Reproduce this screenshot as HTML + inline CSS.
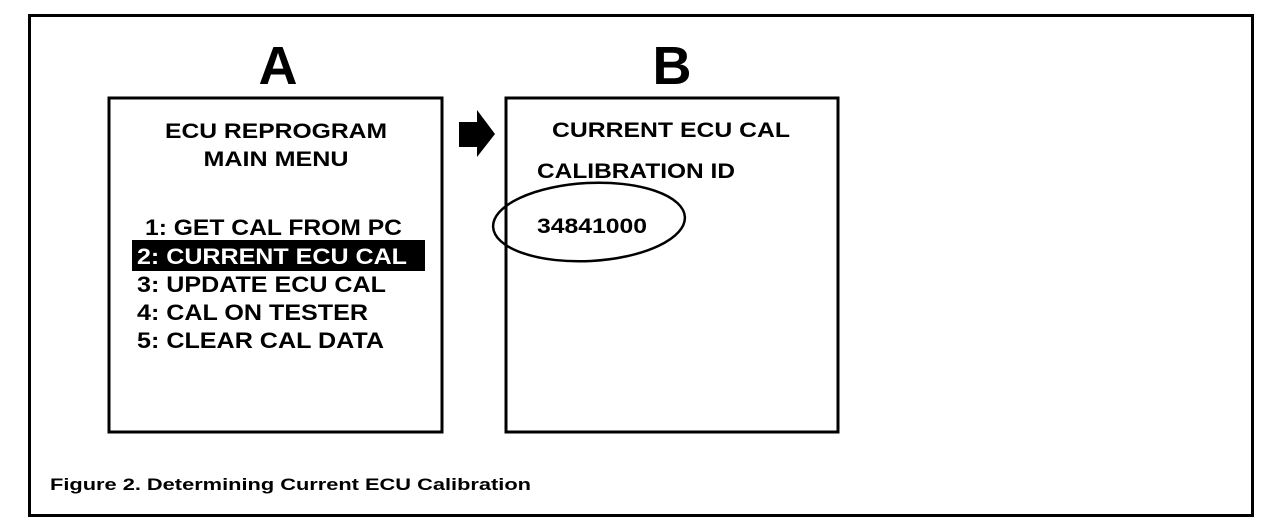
<!DOCTYPE html>
<html><head><meta charset="utf-8"><style>
html,body{margin:0;padding:0;background:#fff;}
svg{display:block;}
text{font-family:"Liberation Sans",sans-serif;font-weight:bold;fill:#000;}
</style></head><body>
<svg width="1280" height="530" viewBox="0 0 1280 530" xmlns="http://www.w3.org/2000/svg">
<rect x="29.5" y="15.5" width="1223" height="500" fill="none" stroke="#000" stroke-width="3"/>
<text x="278" y="84" font-size="54" text-anchor="middle">A</text>
<text x="672" y="84" font-size="54" text-anchor="middle">B</text>
<rect x="109" y="98" width="333" height="334" fill="none" stroke="#000" stroke-width="3"/>
<rect x="506" y="98" width="332" height="334" fill="none" stroke="#000" stroke-width="3"/>
<polygon points="459,122 477,122 477,110 495,134 477,157 477,147 459,147" fill="#000"/>
<text x="276" y="138" font-size="21" text-anchor="middle" textLength="222" lengthAdjust="spacingAndGlyphs">ECU REPROGRAM</text>
<text x="276" y="166" font-size="21" text-anchor="middle" textLength="145" lengthAdjust="spacingAndGlyphs">MAIN MENU</text>
<rect x="132" y="240" width="293" height="31" fill="#000"/>
<text x="145" y="235" font-size="22" textLength="257" lengthAdjust="spacingAndGlyphs">1: GET CAL FROM PC</text>
<text x="137" y="264" font-size="22" textLength="270" lengthAdjust="spacingAndGlyphs" style="fill:#fff">2: CURRENT ECU CAL</text>
<text x="137" y="292" font-size="22" textLength="249" lengthAdjust="spacingAndGlyphs">3: UPDATE ECU CAL</text>
<text x="137" y="320" font-size="22" textLength="231" lengthAdjust="spacingAndGlyphs">4: CAL ON TESTER</text>
<text x="137" y="348" font-size="22" textLength="247" lengthAdjust="spacingAndGlyphs">5: CLEAR CAL DATA</text>
<text x="552" y="137" font-size="21" textLength="238" lengthAdjust="spacingAndGlyphs">CURRENT ECU CAL</text>
<text x="537" y="178" font-size="21" textLength="198" lengthAdjust="spacingAndGlyphs">CALIBRATION ID</text>
<text x="537" y="233" font-size="21" textLength="110" lengthAdjust="spacingAndGlyphs">34841000</text>
<ellipse cx="589" cy="222" rx="96" ry="39" fill="none" stroke="#000" stroke-width="2.5" transform="rotate(-3 589 222)"/>
<text x="50" y="490" font-size="17" textLength="481" lengthAdjust="spacingAndGlyphs">Figure 2. Determining Current ECU Calibration</text>
</svg>
</body></html>
